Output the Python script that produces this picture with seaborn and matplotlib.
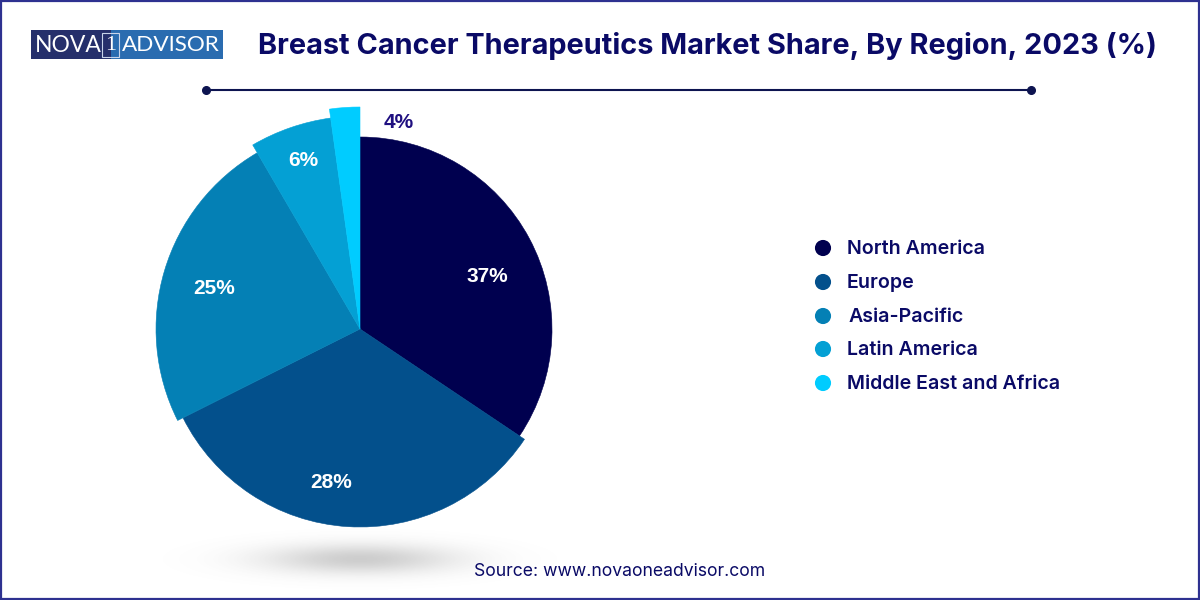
import numpy as np
import matplotlib
matplotlib.use("Agg")
import matplotlib.pyplot as plt
from matplotlib.patches import Rectangle
import seaborn as sns

regions = ['North America', 'Europe', 'Asia-Pacific', 'Latin America', 'Middle East and Africa']
# labels printed on the chart
share_labels = ['37%', '28%', '25%', '6%', '4%']
# slice sizes as actually drawn in the picture (they differ from the printed labels)
drawn_shares = [34.4, 33.2, 24.0, 6.2, 2.2]
colors = ['#00004f', '#03508c', '#0480b5', '#04a0d4', '#00ccff']

TITLE = 'Breast Cancer Therapeutics Market Share, By Region, 2023 (%)'
SOURCE = 'Source: www.novaoneadvisor.com'

NAVY = '#0a0a66'
H = 600


def py(y):
    # pixel row from the top -> data y
    return H - y


sns.set_theme(style="white")
plt.rcParams['font.family'] = ['Inter', 'DejaVu Sans']
palette = sns.color_palette(colors)

fig = plt.figure(figsize=(12, 6), dpi=100)
ax = fig.add_axes([0, 0, 1, 1])

# soft shadow under the pie
xx, yy = np.meshgrid(np.linspace(150, 570, 420), np.linspace(525, 595, 70))
fade = np.exp(-((xx - 360) / 95) ** 2 - ((yy - 559) / 15) ** 2) * 0.3
shadow = np.zeros(xx.shape + (4,))
shadow[..., :3] = 0.35
shadow[..., 3] = fade
ax.imshow(shadow, extent=(150, 570, py(595), py(525)), zorder=0, interpolation='bilinear')

# pie, each slice pulled out to its own radius
wedges, _ = ax.pie(drawn_shares, colors=palette, startangle=90, counterclock=False,
                   center=(360, py(329)), radius=192, frame=True,
                   wedgeprops={'linewidth': 0.4})
for wedge, r, c in zip(wedges, [192, 198, 204, 213, 222], palette):
    wedge.set_radius(r)
    wedge.set_edgecolor(c)

label_pos = [(487, 275), (331, 482), (214, 287), (303, 160), (399, 121)]
label_cols = ['white', 'white', 'white', 'white', '#1f0f80']
for txt, (x, y), c in zip(share_labels, label_pos, label_cols):
    ax.text(x, py(y + 1), txt, color=c, fontsize=15, fontweight='bold', ha='center', va='center',
            family=['Liberation Sans', 'DejaVu Sans'])

# legend
legend_y = [248, 282, 316, 349, 383]
sns.scatterplot(x=[823] * 5, y=[py(v) for v in legend_y], hue=regions, palette=palette,
                s=135, linewidth=0, legend=False, ax=ax)
legend_x = [847, 847, 849, 847, 847]
for name, x, y in zip(regions, legend_x, legend_y):
    ax.text(x, py(y + 1), name, color=NAVY, fontsize=14.1, fontweight='semibold', va='center')

# title and rule
ax.text(258, py(46), TITLE, color=NAVY, fontsize=20.8, fontweight='bold', va='center')
ax.plot([206, 1031], [py(90), py(90)], color='#0d1450', lw=1.5)
ax.plot([206, 1031], [py(90), py(90)], 'o', color='#0d1450', ms=5.5)

# logo
ax.add_patch(Rectangle((31, py(59)), 80, 29, color='#252f6b', lw=0))
ax.add_patch(Rectangle((111, py(59)), 112, 29, color='#2a6cb0', lw=0))
ax.add_patch(Rectangle((102, py(56.5)), 17, 24, fill=False, ec='#c8d4ea', lw=0.8))
logo_font = ['Lato', 'DejaVu Sans']
ax.text(35, py(45), 'NOVA', color='white', fontsize=16.5, va='center', family=logo_font)
ax.text(110.5, py(45), '1', color='white', fontsize=16, ha='center', va='center', family='Liberation Serif')
ax.text(122, py(45), 'ADVISOR', color='white', fontsize=16.2, va='center', family=logo_font)

# source
ax.text(474, py(572), SOURCE, color=NAVY, fontsize=12.65, va='center')

# frame of the picture
ax.add_patch(Rectangle((1, 1), 1198, 598, fill=False, ec='#2e3190', lw=1.6, zorder=5))

ax.set_xlim(0, 1200)
ax.set_ylim(0, H)
ax.set_aspect('equal')
ax.axis('off')

fig.savefig('out.png', dpi=100, facecolor='white')
